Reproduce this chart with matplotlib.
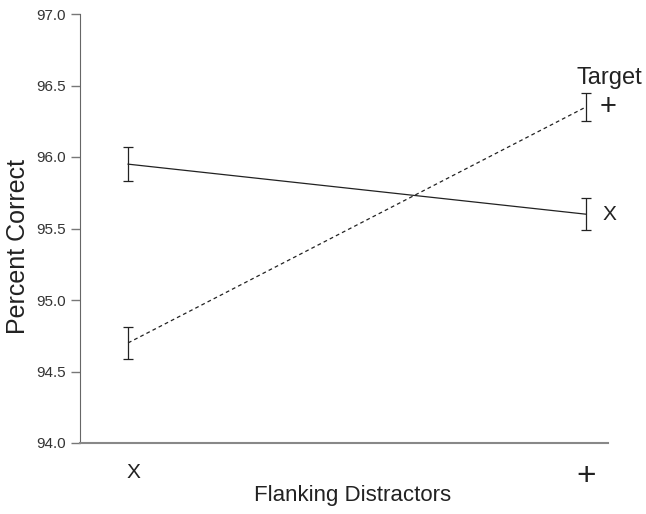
import matplotlib.pyplot as plt
import numpy as np

plt.rcParams['font.family'] = ['Liberation Sans', 'DejaVu Sans']

distractors = ['X', '+']
target_x = [95.95, 95.60]
target_x_err = [0.12, 0.11]
target_plus = [94.70, 96.35]
target_plus_err = [0.11, 0.10]
yticks = [94.0, 94.5, 95.0, 95.5, 96.0, 96.5, 97.0]

fig = plt.figure(figsize=(6.46, 5.14), dpi=100)
ax = fig.add_axes([80 / 646, 1 - 443 / 514, 528 / 646, 429 / 514])

xs = np.arange(len(distractors))
ax.errorbar(xs, target_x, yerr=target_x_err, color='#222222', lw=0.9,
            elinewidth=0.9, capsize=3.3, capthick=0.9)
ax.errorbar(xs, target_plus, yerr=target_plus_err, color='#222222', lw=0.9,
            ls=(0, (3, 2.5)), elinewidth=0.9, capsize=3.3, capthick=0.9)

# series labels at right end
ax.text(xs[-1] + 0.035, target_x[-1], 'X', fontsize=15, ha='left', va='center', color='#222222')
ax.text(xs[-1] + 0.03, target_plus[-1], '+', fontsize=21, ha='left', va='center', color='#222222')
ax.text(xs[-1] + 0.05, target_plus[-1] + 0.2, 'Target', fontsize=17, ha='center', va='center', color='#222222')

ax.set_xlim(-0.105, 1.048)
ax.set_ylim(94.0, 97.0)
ax.set_yticks(yticks)
ax.set_yticklabels(['{:.1f}'.format(v) for v in yticks], fontsize=11, color='#333333')
ax.set_xticks([])
label_dx = [0.012, 0.0]
label_y = [-0.068, -0.078]
label_fs = [15, 24]
for x, lab, dx, y, fs in zip(xs, distractors, label_dx, label_y, label_fs):
    ax.text(x + dx, y, lab, transform=ax.get_xaxis_transform(), ha='center', va='center',
            fontsize=fs, color='#222222')

ax.spines['top'].set_visible(False)
ax.spines['right'].set_visible(False)
ax.spines['left'].set_color('#666666')
ax.spines['bottom'].set_color('#888888')
ax.spines['bottom'].set_linewidth(1.5)
ax.tick_params(axis='y', length=6.5, color='#777777', width=1)

fig.text(18 / 646, 1 - 246 / 514, 'Percent Correct', rotation=90, ha='center', va='center',
         fontsize=18, color='#222222')
fig.text(353 / 646, 1 - 496 / 514, 'Flanking Distractors', ha='center', va='center',
         fontsize=16, color='#222222')

fig.savefig('out.png', dpi=100)
